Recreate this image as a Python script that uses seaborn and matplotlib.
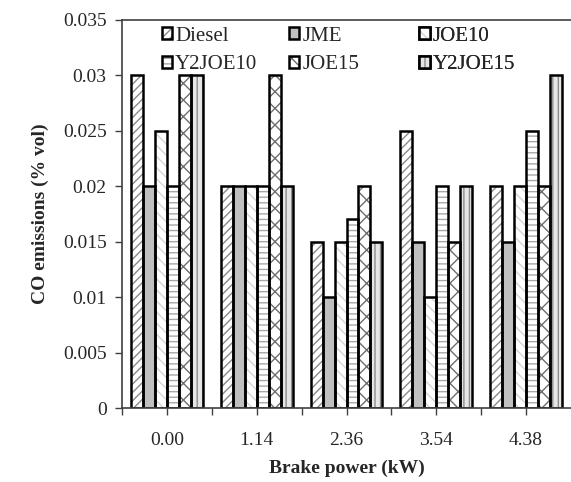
import numpy as np
import pandas as pd
import matplotlib
matplotlib.use("Agg")
import matplotlib.pyplot as plt
import seaborn as sns
from matplotlib.patches import Rectangle, Patch
from matplotlib.legend_handler import HandlerTuple

# data
brake_power = ["0.00", "1.14", "2.36", "3.54", "4.38"]
fuels = ["Diesel", "JME", "JOE10", "Y2JOE10", "JOE15", "Y2JOE15"]
diesel = [0.030, 0.020, 0.015, 0.025, 0.020]
jme = [0.020, 0.020, 0.010, 0.015, 0.015]
joe10 = [0.025, 0.020, 0.015, 0.010, 0.020]
y2joe10 = [0.020, 0.020, 0.017, 0.020, 0.025]
joe15 = [0.030, 0.030, 0.020, 0.015, 0.020]
y2joe15 = [0.030, 0.020, 0.015, 0.020, 0.030]
y_ticks = [0, 0.005, 0.01, 0.015, 0.02, 0.025, 0.03, 0.035]
y_ticklabels = ["0", "0.005", "0.01", "0.015", "0.02", "0.025", "0.03", "0.035"]

series = [diesel, jme, joe10, y2joe10, joe15, y2joe15]
df = pd.DataFrame({
    "power": np.tile(brake_power, len(fuels)),
    "fuel": np.repeat(fuels, len(brake_power)),
    "co": np.concatenate(series),
})

# fill style per fuel: (face, hatch, hatch colour)
styles = {
    "Diesel": ("white", "////", "#8a8a8a"),
    "JME": ("#c0c0c0", "", "#c0c0c0"),
    "JOE10": ("white", "\\\\\\", "#d4d4d4"),
    "Y2JOE10": ("white", "---", "#a8a8a8"),
    "JOE15": ("white", "xx", "#6e6e6e"),
    "Y2JOE15": ("#e6e6e6", "|||", "#8c8c8c"),
}

sns.set_style("ticks")
plt.rcParams["font.family"] = ["Liberation Serif", "DejaVu Serif"]
plt.rcParams["hatch.linewidth"] = 1.0

fig = plt.figure(figsize=(5.71, 4.82), dpi=100)
ax = fig.add_axes([0.2137, 0.1535, 0.7863, 0.8055])

sns.barplot(data=df, x="power", y="co", hue="fuel", hue_order=fuels,
            order=brake_power, width=0.8, dodge=True, legend=False, ax=ax,
            err_kws={"linewidth": 0})

handles = {}
for cont, fuel in zip(ax.containers, fuels):
    face, hatch, hcol = styles[fuel]
    for p in cont.patches:
        p.set_facecolor(face)
        p.set_hatch(hatch)
        p.set_edgecolor(hcol)
        p.set_linewidth(0)
        ax.add_patch(Rectangle(p.get_xy(), p.get_width(), p.get_height(),
                               fill=False, edgecolor="black", linewidth=1.8,
                               zorder=p.get_zorder() + 0.1))
    h1 = Patch(facecolor=face, hatch=hatch, edgecolor=hcol, linewidth=0)
    h2 = Patch(fill=False, edgecolor="black", linewidth=1.8)
    handles[fuel] = (h1, h2)

# legend: three evenly spaced columns, filled row by row
columns = [["Diesel", "Y2JOE10"], ["JME", "JOE15"], ["JOE10", "Y2JOE15"]]
col_x = [0.088, 0.372, 0.662]
for names, x in zip(columns, col_x):
    leg = ax.legend([handles[f] for f in names], names,
                    handler_map={tuple: HandlerTuple(ndivide=1)},
                    frameon=False, loc="upper left", bbox_to_anchor=(x, 0.982),
                    fontsize=15, handlelength=0.5, handleheight=0.5,
                    handletextpad=0.15, labelspacing=0.45,
                    borderpad=0, borderaxespad=0)
    ax.add_artist(leg)

ax.set_ylim(0, 0.035)
ax.set_xlim(-0.5, 4.5)
ax.set_yticks(y_ticks)
ax.set_yticklabels(y_ticklabels)
ax.set_xticks(range(len(brake_power)))
ax.set_xticklabels(brake_power)
ax.set_xticks(np.arange(-0.5, 4.5, 1.0), minor=True)
ax.tick_params(axis="both", which="major", labelsize=14, direction="out",
               length=5, width=1, color="#404040", pad=6)
ax.tick_params(axis="x", which="minor", direction="out", length=5, width=1,
               color="#404040")
ax.tick_params(axis="x", which="major", pad=12)

for side in ["left", "bottom", "top"]:
    ax.spines[side].set_color("#404040")
    ax.spines[side].set_linewidth(1.2)
ax.spines["right"].set_visible(False)

ax.set_xlabel("Brake power (kW)", fontsize=14, fontweight="bold", labelpad=8)
ax.set_ylabel("CO emissions (% vol)", fontsize=14, fontweight="bold", labelpad=10)

fig.savefig("out.png", dpi=100)
